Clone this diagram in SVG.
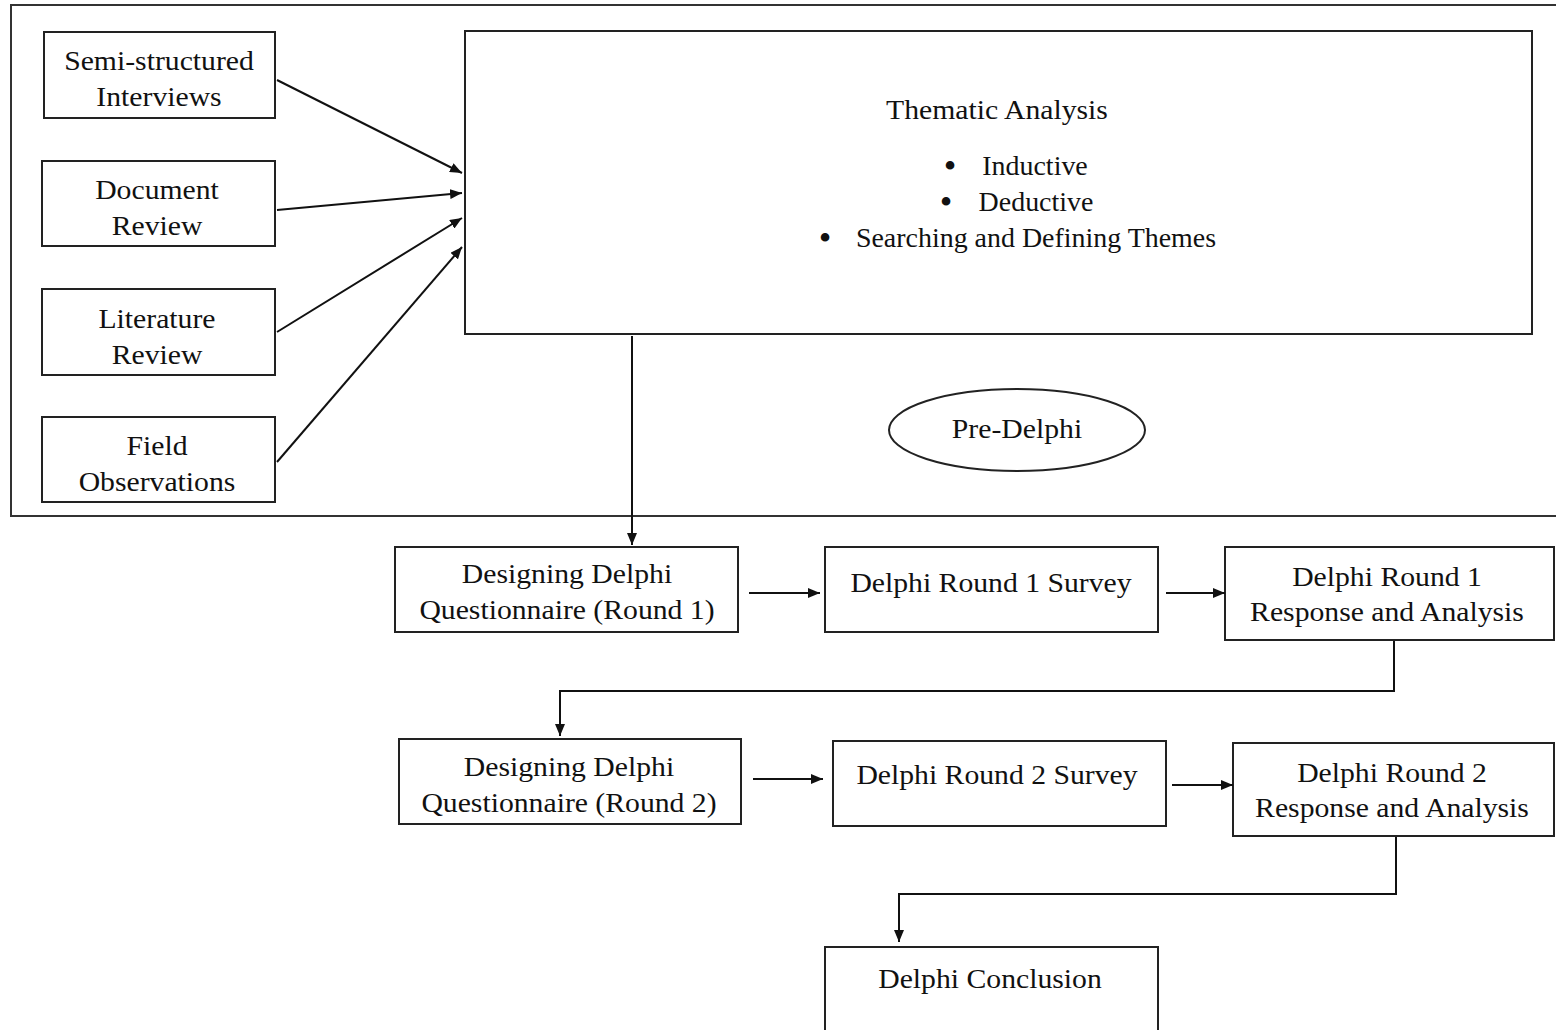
<svg xmlns="http://www.w3.org/2000/svg" width="1556" height="1030" viewBox="0 0 1556 1030">
<style>
.box{fill:#fff;stroke:#222;stroke-width:2}
.frame{fill:none;stroke:#333;stroke-width:2}
.ln{fill:none;stroke:#111;stroke-width:2}
text{font-family:"Liberation Serif","Times New Roman",serif;font-size:27px;fill:#111;text-anchor:middle}
.bul{font-size:36px}
</style>
<defs>
<marker id="ah" markerUnits="userSpaceOnUse" markerWidth="12" markerHeight="10" refX="12" refY="5" orient="auto">
<path d="M0,0 L12,5 L0,10 z" fill="#111"/>
</marker>
</defs>
<rect width="1556" height="1030" fill="#fff"/>
<g id="pre-delphi-frame">
<path class="frame" d="M1560,5 H11 V516 H1560"/>
</g>
<g id="semi-structured">
<rect class="box" x="44" y="32" width="231" height="86"/>
<text transform="translate(159,70) scale(1.1,1)"><tspan x="0" y="0">Semi-structured</tspan><tspan x="0" y="36">Interviews</tspan></text>
</g>
<g id="document-review">
<rect class="box" x="42" y="161" width="233" height="85"/>
<text transform="translate(157,199) scale(1.1,1)"><tspan x="0" y="0">Document</tspan><tspan x="0" y="36">Review</tspan></text>
</g>
<g id="literature-review">
<rect class="box" x="42" y="289" width="233" height="86"/>
<text transform="translate(157,328) scale(1.1,1)"><tspan x="0" y="0">Literature</tspan><tspan x="0" y="36">Review</tspan></text>
</g>
<g id="field-observations">
<rect class="box" x="42" y="417" width="233" height="85"/>
<text transform="translate(157,455) scale(1.1,1)"><tspan x="0" y="0">Field</tspan><tspan x="0" y="36">Observations</tspan></text>
</g>
<g id="thematic-analysis">
<rect class="box" x="465" y="31" width="1067" height="303"/>
<text transform="translate(997,119) scale(1.1,1)">Thematic Analysis</text>
<text class="bul" x="950" y="178">•</text>
<text transform="translate(1035,175) scale(1.035,1)">Inductive</text>
<text class="bul" x="946" y="214">•</text>
<text transform="translate(1036,211) scale(1.035,1)">Deductive</text>
<text class="bul" x="825" y="250">•</text>
<text transform="translate(1036,247) scale(1.035,1)">Searching and Defining Themes</text>
</g>
<g id="pre-delphi">
<ellipse class="box" cx="1017" cy="430" rx="128" ry="41"/>
<text transform="translate(1017,438) scale(1.1,1)">Pre-Delphi</text>
</g>
<g id="design-q1">
<rect class="box" x="395" y="547" width="343" height="85"/>
<text transform="translate(567,583) scale(1.1,1)"><tspan x="0" y="0">Designing Delphi</tspan><tspan x="0" y="36">Questionnaire (Round 1)</tspan></text>
</g>
<g id="round1-survey">
<rect class="box" x="825" y="547" width="333" height="85"/>
<text transform="translate(991,592) scale(1.1,1)">Delphi Round 1 Survey</text>
</g>
<g id="round1-response">
<rect class="box" x="1225" y="547" width="329" height="93"/>
<text transform="translate(1387,586) scale(1.1,1)"><tspan x="0" y="0">Delphi Round 1</tspan><tspan x="0" y="35">Response and Analysis</tspan></text>
</g>
<g id="design-q2">
<rect class="box" x="399" y="739" width="342" height="85"/>
<text transform="translate(569,776) scale(1.1,1)"><tspan x="0" y="0">Designing Delphi</tspan><tspan x="0" y="36">Questionnaire (Round 2)</tspan></text>
</g>
<g id="round2-survey">
<rect class="box" x="833" y="741" width="333" height="85"/>
<text transform="translate(997,784) scale(1.1,1)">Delphi Round 2 Survey</text>
</g>
<g id="round2-response">
<rect class="box" x="1233" y="743" width="321" height="93"/>
<text transform="translate(1392,782) scale(1.1,1)"><tspan x="0" y="0">Delphi Round 2</tspan><tspan x="0" y="35">Response and Analysis</tspan></text>
</g>
<g id="conclusion">
<path class="box" d="M825,1040 V947 H1158 V1040"/>
<text transform="translate(990,988) scale(1.1,1)">Delphi Conclusion</text>
</g>
<g id="connectors">
<line class="ln" x1="277" y1="80" x2="462" y2="173" marker-end="url(#ah)"/>
<line class="ln" x1="277" y1="210" x2="462" y2="193" marker-end="url(#ah)"/>
<line class="ln" x1="277" y1="332" x2="462" y2="218" marker-end="url(#ah)"/>
<line class="ln" x1="277" y1="462" x2="462" y2="247" marker-end="url(#ah)"/>
<line class="ln" x1="632" y1="336" x2="632" y2="545" marker-end="url(#ah)"/>
<line class="ln" x1="749" y1="593" x2="820" y2="593" marker-end="url(#ah)"/>
<line class="ln" x1="1166" y1="593" x2="1225" y2="593" marker-end="url(#ah)"/>
<path class="ln" d="M1394,641 V691 H560 V736" marker-end="url(#ah)"/>
<line class="ln" x1="753" y1="779" x2="823" y2="779" marker-end="url(#ah)"/>
<line class="ln" x1="1172" y1="785" x2="1233" y2="785" marker-end="url(#ah)"/>
<path class="ln" d="M1396,837 V894 H899 V942" marker-end="url(#ah)"/>
</g>
</svg>
